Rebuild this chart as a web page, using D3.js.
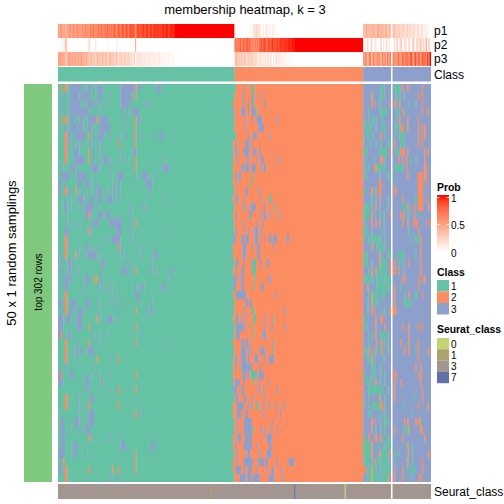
<!DOCTYPE html>
<html><head><meta charset="utf-8">
<script src="https://cdn.jsdelivr.net/npm/d3@7"></script>
<style>html,body{margin:0;padding:0;background:#fff}svg{display:block}text{font-family:"Liberation Sans",Arial,sans-serif;fill:#000}</style>
</head><body><div id="chart"></div>
<script>
const titleText = "membership heatmap, k = 3";
const classNames = ["1","2","3"];
const classColors = ["#66C2A5","#FC8D62","#8DA0CB"];
const seuratNames = ["0","1","3","7"];
const seuratColors = ["#C4D272","#ABA26D","#A39590","#626FA8"];
const probTicks = [1,0.5,0];
const annotationNames = ["p1","p2","p3"];
const columnCount = 280, sliceBreak = 251, class3Start = 230;

// first column of class 2 in each sampling row
const class2Start = [134,133,132,132,133,133,134,132,132,132,132,132,132,133,132,133,132,133,133,132,132,132,133,132,132,132,132,133,133,132,133,133,132,133,132,132,132,132,132,133,132,132,133,133,132,132,133,132,132,133];

// off-class cells per row: b/o/g + column range
const class1Cells = [
"o2 o5-6 b9-17 b20 b22-24 b27 b30-33 b47-55 b56-57 o58 b61-62 b74-77",
"b2 b5 b9-15 b17-23 b27 b30-32 b39 b47-55 o58",
"b2 b5 b9-16 b19 b22-26 b29 b32 b36 b47-50 b51-53 b66-67",
"b2 b5 b9-21 b22 b26 b32 b48 b52 b56-60",
"o2 o5-6 b9-11 b14 b16-18 b22-28 o29 b32-37 b50 o58 b60-61",
"b2 b5-6 b9-13 b15-18 b22-24 b27 b31-38 b48 o58",
"o5-6 b7-8 b12-20 o23 b26 b30-34 b39 b46 b51 o58 b62 b76-78",
"o5-6 b7 b10 b12 b15 b17 b22 b25 b27 b30 b32 o45 o58",
"o5-6 b7 b12-15 o23 b27 b31 b47 b56-58",
"o5-6 b12-15 b16-19 o23 b27 b30 b34-37 b39 b47 b52 o58 b80",
"b3 b9-11 b12 b15 b25-29 b31 b39 o58 b78 b80-83",
"b2-8 b14-20 b25 b40 b45-48 b58 b63-67 b72",
"b0-1 b5 b15-17 b21-23 b25 b30 b41 b44 b46 b66-70 b69",
"b0-1 o5-6 b8 o13 b16 b21 b25 b29-32 b37 b41 b44 b46 b68 b69",
"b6 b10 b15-18 b20 b24-26 b30-32 b37-40 b42 b45 b81",
"b4-6 b10 b16 b20-26 b30 b55 b63 b65",
"b6 b20-24 o23 b30-32 b35-38 b44 b55",
"b6 b10 b16 b26-30 b39-43 b44-47 o58 b55",
"b5-7 b21 o23 b25 b44-47 b55 b84",
"o5-6 b7 b34 b40-45 b46 b55",
"o5-6 b7 b16 b21-22 b25 b30 o45 b47 b61",
"b2 o5-6 o13 b16 b22-28 b31 b46 b50 b62 b72-74",
"b0 b2 b7-9 b11 b32-34 b51 b55 b71",
"b2 b6 b8 b11 b15 b33 b48-51 b55 o58 b70 b74 b85-86",
"b2 b5-7 b9-10 b20-23 o27 o29 b33 b83",
"b2 b5-7 b20 b30 b32 b36 b40 b58 b62-64 b78-80",
"o5-6 b20 b40 b44 b58-60",
"b0-2 o5-6 b9-13 b21-23 b31 b39 b42 b48 b61 b70",
"b2 o5-6 b9-11 b15-18 b23 b31 b45 o58 b67 b70 b71",
"b0-3 b6-9 b14-17 o29 b31 b37-40 b44",
"b0-3 b14-17 o23 o58",
"b0-1 o2 b7-9 b27 b31 b37 b63",
"o5-6 b14 o23 b30 o58 b85",
"o5-6 b13-14 b16-17 b22-26",
"o5-6 b13 o29 b39 o45",
"b2 b6 b27",
"b0-1 o2 b9-11 b20 b25 b31 b39 o58",
"b0-2 b3 b20-23 b32-33",
"b20 b23 b40 o45 o58",
"o5-6 b15 b24-26",
"o5-6 b15 b20 o23 o45",
"b0 b16 b23-26 o58 b62",
"b2-4 b12-15 b18 b23-26",
"b2-4 b9 b14 b17 b21-23",
"b2-4 o23 b25 b39 b47",
"b2-4 b9 b12-14 b47-50 b70-72",
"b0-4 b9 b12-13 b21 o58",
"b2 o4 o58",
"b0-2 o5-6 o23 o41 o45 o58",
"o5-6 b39 b45"];

const class2Cells = [
"b141 g146-147",
"b139 b146 g147 b153",
"b139 b143 b146 g147 b155",
"b132 b138-140 b143 b146-148 g150",
"b141 b146 b150-152 b153 b165",
"b141 b151-154",
"b143 b147-148 b150 b160",
"b134 b141-143 b145",
"b133 b135 b140-143 b147-148 b150 b152",
"b135 b142 b144 b150 b153-154 b166",
"b138-139 b141-143 b146-148 b153 b155 b156",
"b134 b136 b137 g146",
"b135 g145",
"b141-142 b151",
"b134-135 b141 b153 g159-160",
"b139 b141 b145-148 b155 g163",
"b134 b144-145 b153 b155-156 b160 b166",
"b139 b150 b154",
"b134 b141 b144 b148-150 b153",
"b132-133 b138-139 b141-143 b148-150 b155 b159-160 b162-164 b172-173",
"b139-141 b146 b150 b151 b162",
"b139-141 b150-151",
"b134 b135 b140 g146-147 g148 b152 b157-158",
"b134 b138-139 g146-147 g148",
"b132-133 b135 b138-139 g148 b158 b160",
"b132-133 b138-139 g146 b153-154",
"b134-141 b164",
"b141-142 b144-145",
"b140 g146-147 b171",
"b134 b135 b138 b141 g147-148 b156 g162",
"b134-139 b141 g146 b156 b161 b171",
"b134-136 g147 b154-156",
"b138-139 b141-142 b144 b162",
"b138-141 b143 b145 b152-154 b156 g162",
"b133 b135 b138-141 b143 b148-150 b155 b159-161 b162",
"b134 b138-141 b142-145 b152",
"b139-141 b143 g145-149 b151-152 b153-154",
"b133-136 b140 g147 b151 b158",
"b132-134 b138-139 b151 b154 b165",
"b134-135 b140-141 b147 b156",
"b135-139 b143 b145 g149-150 b154 b159 b164 b170",
"b135-137 b141 b142 b154 b167",
"b135 b140-145 b161",
"b135 b140-145 g147 b153 b156 b160 b165",
"b135-137 b141-145 b157-160",
"b134 b140-142 b143-145 b150 b159-160",
"b135 b141 b143-144 b151 b157-160",
"b135 b140-142 b143-146 b151-154 b156-157 b165 b174-177",
"b134-137 b140 b143-145 b150 b157 b161-162 b168",
"b137-141 b143-145 b147-151 b159-162 b169"];

const class3Cells = [
"g243-245 g252-256 o258 o262 o273",
"o236 g237 g243-245 g253 g255-256 g259 o270 o273",
"o236 o238 g242 o250 o252 g254 o256 g263 g268 o273",
"g234 g243-247 g254-255 o258 g260 o273 o277",
"g231 g234 g237-239 g244 g254 o256 o262 o270",
"g231-235 g239 g244-246 g253-255 o257-258 g261 o262 o270 o273 o275",
"g230 g233-234 g237 o243 g246 g252 g256-259 o270 o273 o275",
"g230 g235 g239 g243 g249-250 o252 g257-259 o270 o273",
"g230-232 g242-247 o250 g253-255 o257-259 o262 o275 o277",
"g231 g238 o243-244 g246 o255 o258 o261 g264 g268 o275",
"g231 g234 o238-239 g240-242 g244-246 g253-258 o261 o275 o276",
"g230 g232 g242 g249-250 o262 o270-273 o275 o276",
"o242 o243 o270-273 o276",
"g230-231 o236 g237 o239 o242 o243 o252-253 o270-273",
"g236 g239 o242 g248 o258 g268-269 o270-273 o276",
"g231-234 g236 o239 g242 g248 g258-260 o262 g264 o267 o270-273 o278",
"g230-234 o236 g238 g242 g245 o250 o257 o259 g262 o267 g270",
"g231 o236 o239 o242 g245 o258 o262 o267-269 o276 o279",
"g230-232 g236 g245 g263 o270",
"g230-231 g234-235 g237-241 g243 g246 g264 g268-270 o272",
"g235 o237 g240-244 g246 o272",
"g230-232 o242 g243 g248-250 g255-259 g268 o272",
"g230-232 g236 o242 g243-247 o250 o252 g255 g258 o263 o272",
"g234 o236 o239 g240-242 g244-247 o250-252 o255 g259 o272",
"g231-235 g237 g240-244 g246-250 o258 o260 o270 o273 o275",
"o233 g234 g240-246 g248-250 o252 g257 o270",
"g234 o236 g237-241 g244-246 o252 g260 o263 g267 g269 o273",
"g233 o236 g237-239 g241 o252 g260-264",
"g233 o236 o238 g244 g246 o250-253",
"g230-231 o239 o243-244",
"g230 g232 o239 o246 o258 o263 o270 o273",
"g234 g237 o239 g243-246 g248 o263",
"g234 o240 g243 o244 g246 g248 o257 o263 o270",
"g231-232 o234 g235 o238 g240 g243 o244 g248 o260 o263 g268 o270 o278",
"g233-235 o236 g238 g245 o270",
"g236-238 g243 o268 o272",
"g230-231 g236-238 g243 g246 o252-253 o270 o272",
"g232-235 o238 g239 g242 g246 o252 o257 o272",
"g234-238 g239-241 g242-244 g248 o252 o273",
"g230 g234 o242 g243 g246 o252 g267 o273",
"g230 g234 g237-242 o243-244 g246 g258 o270 o277",
"g234-235 g241 g244 g246 g264",
"o236 o238 g243 g246-248 o260 o262 o268 o270-271 g272",
"o236 g239 g243 g246 o252 g260-262 o263 o272-273",
"g230-231 o234 o238 o240 o243 g245-246 g249 o258 o275",
"g230-235 o236 g241 g245 g247-250 g261 o262 g266",
"g230-235 o236 o242 g243-248 o250 g252 g255 g261 o263 g266 o278",
"g231-234 g236 g238-241 o238 g243-248 g252 g261 o262 g266 o273",
"o230-231 g233-235 o236 g237-239 g242-244 g246-250 o252 o258 g261 g264-267 o273",
"g233-242 o236 g244-248 o249 o252 o258 g264 o271-272"];

// membership probabilities per column, in percent
const fillRun = (v,n) => Array(n).fill(v);
const p1 = [
50,48,55,45,52,38,42,55,50,58,48,60,55,50,62,52,58,48,60,55,
62,55,65,50,68,60,72,58,66,62,70,64,75,60,68,72,65,78,70,62,
74,68,78,72,65,80,74,70,82,76,70,84,78,72,86,80,88,78,55,84,
88,82,90,85,92,86,88,94,84,90,92,88,94,90,96,92,88,95,92,96,
94,98,95,92,97,96,98,97,...fillRun(100,45),
0,0,0,2,0,0,3,0,0,2,0,0,4,0,18,12,22,16,20,8,
3,10,0,8,14,2,10,0,12,4,6,...fillRun(0,66),
42,35,45,38,40,32,44,36,42,34,40,46,38,44,34,40,36,42,30,38,34,
36,28,32,22,26,30,18,24,28,14,20,26,16,22,12,18,24,10,14,20,8,12,16,6,10,8,4,2,0];
const p2 = [
0,0,0,10,0,30,30,0,0,0,0,0,0,0,0,0,0,0,0,0,
0,0,0,22,0,0,0,0,12,0,0,0,0,0,0,0,0,5,0,0,
0,0,0,0,10,0,0,0,0,0,0,0,0,0,0,0,0,0,40,0,
...fillRun(0,73),
72,60,75,65,78,62,80,66,74,82,70,78,66,62,58,68,60,64,70,76,
84,78,88,80,75,82,86,80,92,84,88,82,90,86,94,90,96,92,94,97,95,98,96,99,98,
...fillRun(100,52),
0,8,0,22,0,0,28,0,6,18,0,0,0,24,0,12,0,20,0,14,0,
0,18,4,28,0,12,32,0,6,22,10,0,26,4,0,34,12,0,30,8,18,36,2,24,10,38,6,30,0];
const p3 = [
50,52,45,45,48,32,28,45,50,42,52,40,45,50,38,48,42,52,40,45,
38,45,35,28,32,40,28,30,22,38,30,36,25,40,32,28,35,22,30,38,
26,32,22,28,35,10,26,30,18,24,30,16,22,28,14,20,12,22,5,16,
12,18,10,15,8,14,12,6,16,10,8,12,6,10,4,8,12,5,8,4,
6,2,5,8,3,4,2,3,...fillRun(0,45),
28,40,25,33,22,38,17,34,26,16,30,22,30,26,20,20,20,11,14,16,
13,12,12,12,11,16,4,20,0,12,6,18,10,14,6,10,4,8,6,3,5,2,4,1,2,
...fillRun(0,52),
58,57,55,40,60,68,28,64,52,48,60,54,62,32,66,48,64,38,70,48,66,
64,54,64,50,74,58,50,76,66,64,70,74,58,74,88,48,64,90,56,72,74,52,82,70,80,54,90,68,100];
const columnClass = [...fillRun(1,133),...fillRun(2,97),...fillRun(3,50)];
const seuratOutliers = [[115,"1"],[178,"7"],[216,"0"]];

const W=504,H=504, L=58,R=431,gap=1.5;
const svg=d3.select("#chart").append("svg").attr("width",W).attr("height",H);
const bw=(R-L-gap)/columnCount;
const xA=d3.scaleBand().domain(d3.range(0,sliceBreak)).range([L,L+sliceBreak*bw]);
const xB=d3.scaleBand().domain(d3.range(sliceBreak,columnCount)).range([L+sliceBreak*bw+gap,R]);
const colX=c=>c<sliceBreak?xA(c):xB(c);
const yRow=d3.scaleBand().domain(d3.range(50)).range([84,482]);
const clsColor=d3.scaleOrdinal().domain([1,2,3]).range(classColors);
const tokenCls={g:1,o:2,b:3};
const seuratColor=d3.scaleOrdinal().domain(seuratNames).range(seuratColors);
const probColor=d3.scaleLinear().domain([0,100]).range(["#ffffff","#ff0000"]).interpolate(d3.interpolateLab);

function runs(values){
  const out=[];let s=0;
  for(let c=1;c<=values.length;c++){
    if(c===values.length||values[c]!==values[s]||c===sliceBreak){out.push({s,e:c-1,v:values[s]});s=c;}
  }
  return out;
}
function drawStrip(values,colorFn,y,h,parent){
  parent.append("g").selectAll("rect").data(runs(values)).join("rect")
    .attr("x",d=>colX(d.s)).attr("y",y)
    .attr("width",d=>(d.e-d.s+1)*bw+((d.e===sliceBreak-1||d.e===columnCount-1)?0:0.35))
    .attr("height",h).attr("fill",d=>colorFn(d.v));
}
function parseCells(str,arr){
  if(!str)return;
  str.split(" ").forEach(t=>{
    const k=tokenCls[t[0]];const [a,b]=t.slice(1).split("-").map(Number);
    for(let c=a;c<=(b===undefined?a:b);c++)arr[c]=k;
  });
}
// annotations
const annY=[24,38,52];
[p1,p2,p3].forEach((p,i)=>drawStrip(p,probColor,annY[i],14,svg));
drawStrip(columnClass,clsColor,67,14.5,svg);

// matrix: row edges snapped to whole pixels so no seams show between rows
const matrix=svg.append("g");
d3.range(50).forEach(r=>{
  const row=d3.range(columnCount).map(c=>c<class2Start[r]?1:(c<class3Start?2:3));
  parseCells(class1Cells[r],row);parseCells(class2Cells[r],row);parseCells(class3Cells[r],row);
  const top=Math.round(yRow(r)), bottom=Math.round(yRow(r)+yRow.bandwidth());
  drawStrip(row,clsColor,top,bottom-top,matrix);
});

// seurat bar
const seurat=fillRun("3",columnCount);
seuratOutliers.forEach(([c,v])=>seurat[c]=v);
drawStrip(seurat,seuratColor,484,15,svg);

// left bar
svg.append("rect").attr("x",24).attr("y",84).attr("width",28).attr("height",398).attr("fill","#7FC97F");

// text
function label(x,y,t,size,opts={}){
  const e=svg.append("text").attr("x",x).attr("y",y).text(t).attr("font-size",size);
  if(opts.anchor)e.attr("text-anchor",opts.anchor);
  if(opts.bold)e.attr("font-weight","bold");
  if(opts.rot)e.attr("transform",`rotate(-90 ${x} ${y})`);
  return e;
}
label(245,14,titleText,13,{anchor:"middle"});
annotationNames.forEach((n,i)=>label(434,35+i*14,n,12));
label(434,79,"Class",12);
label(434,496,"Seurat_class",12);
label(42,282,"top 302 rows",10,{anchor:"middle",rot:true});
label(16,253,"50 x 1 random samplings",13,{anchor:"middle",rot:true});

// legends
const lx=437,sw=12;
label(lx,191,"Prob",10.4,{bold:true});
const yProb=d3.scaleLinear().domain([0,1]).range([252,198]);
const defs=svg.append("defs").append("linearGradient").attr("id","pg").attr("x1",0).attr("x2",0).attr("y1",1).attr("y2",0);
d3.range(0,1.001,0.1).forEach(t=>defs.append("stop").attr("offset",t).attr("stop-color",probColor(t*100)));
svg.append("rect").attr("x",lx).attr("y",195).attr("width",sw).attr("height",57).attr("fill","url(#pg)");
probTicks.forEach(t=>{
  [[lx,lx+2.5],[lx+sw-2.5,lx+sw]].forEach(([a,b])=>svg.append("line").attr("x1",a).attr("x2",b).attr("y1",yProb(t)-0.5).attr("y2",yProb(t)-0.5).attr("stroke","#fff").attr("stroke-width",0.8));
  label(lx+sw+2,yProb(t)+ (t===1?4:(t===0?4.5:4)),String(t),10);
});
label(lx,276,"Class",10.4,{bold:true});
classNames.forEach((n,i)=>{
  svg.append("rect").attr("x",lx).attr("y",280+i*11.5).attr("width",sw).attr("height",11.5).attr("fill",classColors[i]);
  label(lx+sw+2,289.5+i*11.5,n,10);
});
label(lx,333,"Seurat_class",10.4,{bold:true});
seuratNames.forEach((n,i)=>{
  svg.append("rect").attr("x",lx).attr("y",338+i*11.3).attr("width",sw).attr("height",11.3).attr("fill",seuratColors[i]);
  label(lx+sw+2,347.5+i*11.3,n,10);
});
</script></body></html>
